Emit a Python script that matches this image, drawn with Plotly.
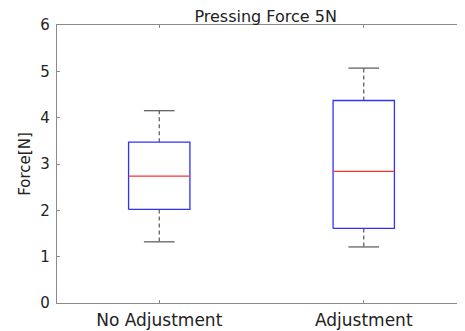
import plotly.graph_objects as go

categories = ["No Adjustment", "Adjustment"]
lower_whisker = [1.32, 1.21]
q1 = [2.02, 1.61]
median = [2.74, 2.84]
q3 = [3.47, 4.37]
upper_whisker = [4.15, 5.07]
y_ticks = [0, 1, 2, 3, 4, 5, 6]

BOX_HALF = 0.15
CAP_HALF = 0.075
FONT = "DejaVu Sans"

fig = go.Figure()
for i, cat in enumerate(categories):
    x = i + 1
    fig.add_trace(go.Scatter(x=[x, x, None, x, x], y=[q3[i], upper_whisker[i], None, q1[i], lower_whisker[i]],
                             mode="lines", line=dict(color="#555555", width=1.2, dash="4px,3px"),
                             hoverinfo="skip", showlegend=False))
    fig.add_trace(go.Scatter(x=[x - CAP_HALF, x + CAP_HALF, None, x - CAP_HALF, x + CAP_HALF],
                             y=[upper_whisker[i], upper_whisker[i], None, lower_whisker[i], lower_whisker[i]],
                             mode="lines", line=dict(color="#555555", width=1.2),
                             hoverinfo="skip", showlegend=False))
    fig.add_trace(go.Scatter(x=[x - BOX_HALF, x + BOX_HALF, x + BOX_HALF, x - BOX_HALF, x - BOX_HALF],
                             y=[q1[i], q1[i], q3[i], q3[i], q1[i]],
                             mode="lines", line=dict(color="#3030ff", width=1.3),
                             hoverinfo="skip", showlegend=False))
    fig.add_trace(go.Scatter(x=[x - BOX_HALF, x + BOX_HALF], y=[median[i], median[i]],
                             mode="lines", line=dict(color="#ff3030", width=1.3),
                             hoverinfo="skip", showlegend=False))

axis_color = "#8a8a8a"
txt = "#222222"
fig.update_layout(
    width=458, height=323,
    margin=dict(l=49, r=0, t=17, b=28, autoexpand=False),
    paper_bgcolor="white", plot_bgcolor="white",
    font=dict(family=FONT, size=14, color=txt),
    title=dict(text="Pressing Force 5N", x=0.5625, xanchor="center", y=0.973, yanchor="middle",
               font=dict(family=FONT, size=16, color=txt)),
    xaxis=dict(range=[0.5, 2.5], tickmode="array", tickvals=[1, 2], ticktext=categories,
               showgrid=False, zeroline=False, showline=True, linecolor=axis_color, linewidth=1.2,
               mirror="ticks", ticks="inside", ticklen=3, tickcolor=axis_color, automargin=False,
               ticklabelstandoff=1,
               tickfont=dict(family=FONT, size=17, color=txt)),
    yaxis=dict(range=[0, 6], tickmode="array", tickvals=y_ticks,
               showgrid=False, zeroline=False, showline=True, linecolor=axis_color, linewidth=1.2,
               mirror="ticks", ticks="inside", ticklen=3, tickcolor=axis_color, automargin=False,
               ticklabelstandoff=3,
               tickfont=dict(family=FONT, size=15, color=txt),
               title=dict(text="Force[N]", standoff=6, font=dict(family=FONT, size=15, color=txt))),
)

fig.write_html("out.html")
